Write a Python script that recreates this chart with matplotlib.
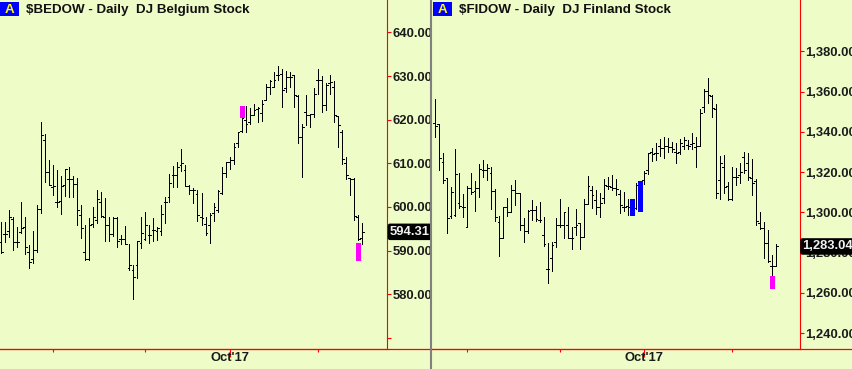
import numpy as np
import matplotlib
matplotlib.use("Agg")
import matplotlib.pyplot as plt
from matplotlib.patches import Rectangle
from matplotlib.lines import Line2D

plt.rcParams['font.family'] = ['Liberation Sans', 'DejaVu Sans']

# ---- data (daily OHLC, index = trading day) ----
# DJ Belgium, 91 sessions starting at index 0
bel_open = [592.0, 593.8, 594.4, 597.3, 591.9, 594.2, 595.4, 589.8, 588.1, 590.2,
            599.6, 615.3, 608.1, 604.5, 601.2, 601.4, 605.0, 606.5, 606.3, 605.3,
            598.2, 589.8, 588.0, 596.1, 597.0, 601.2, 597.8, 595.9, 593.8, 597.4,
            592.6, 592.6, 586.0, 585.5, 586.6, 591.7, 592.7, 593.6, 594.7, 594.6,
            594.6, 601.2, 602.4, 607.3, 607.3, 609.6, 608.5, 604.8, 603.9, 603.0,
            597.8, 596.1, 595.9, 598.6, 599.3, 603.1, 607.9, 610.2, 610.8, 614.6,
            617.3, 620.0, 619.5, 621.1, 622.4, 621.6, 624.5, 627.5, 627.5, 630.2,
            630.4, 627.2, 629.7, 630.2, 625.4, 616.1, 621.8, 621.1, 621.4, 629.2,
            629.0, 623.3, 628.3, 627.5, 620.8, 617.2, 610.0, 606.6, 606.4, 597.8,
            593.0]
bel_high = [596.5, 596.5, 599.3, 597.8, 595.4, 601.1, 597.8, 591.3, 594.4, 600.5,
            619.5, 616.7, 610.8, 609.6, 608.5, 607.0, 608.6, 609.2, 607.0, 606.6,
            600.5, 595.9, 597.4, 599.9, 604.0, 603.5, 602.0, 597.6, 597.8, 597.6,
            593.6, 595.7, 591.5, 586.7, 592.3, 597.8, 598.8, 595.9, 597.4, 595.5,
            600.5, 602.4, 607.6, 609.4, 610.4, 613.4, 609.6, 605.0, 604.3, 604.0,
            603.1, 597.8, 598.6, 601.0, 604.0, 609.1, 610.4, 611.4, 614.6, 617.1,
            620.7, 623.1, 622.6, 623.5, 623.0, 624.6, 628.2, 629.1, 631.0, 632.3,
            631.5, 631.2, 631.0, 630.2, 625.6, 619.0, 625.6, 621.4, 627.2, 631.5,
            630.0, 628.3, 630.2, 628.9, 620.8, 617.6, 611.4, 606.6, 606.6, 598.2,
            596.3]
bel_low = [589.4, 591.9, 593.2, 590.2, 590.8, 594.0, 589.3, 586.0, 587.1, 589.8,
           598.6, 605.8, 605.0, 602.8, 599.9, 598.4, 602.5, 602.2, 602.4, 595.9,
           592.8, 587.9, 587.9, 595.5, 596.4, 597.8, 592.1, 592.1, 593.4, 590.9,
           591.5, 591.5, 585.6, 579.0, 583.7, 590.5, 592.5, 591.7, 592.1, 592.5,
           593.6, 596.3, 601.2, 604.5, 604.5, 608.3, 604.8, 603.0, 601.0, 596.9,
           595.9, 593.6, 591.8, 596.7, 598.9, 603.0, 606.9, 608.6, 609.9, 613.8,
           617.1, 617.1, 619.0, 621.0, 619.5, 619.8, 624.5, 626.0, 627.4, 629.1,
           623.0, 626.4, 627.5, 622.8, 614.6, 606.9, 618.8, 618.4, 620.7, 626.0,
           621.8, 622.2, 626.0, 619.5, 613.7, 609.8, 606.3, 602.7, 597.0, 592.5,
           591.5]
bel_close = [589.6, 593.8, 597.6, 591.9, 591.9, 595.1, 590.9, 587.5, 590.2, 599.6,
             616.5, 608.1, 605.0, 604.7, 601.2, 604.8, 608.6, 606.5, 605.3, 599.3,
             595.1, 588.0, 595.9, 597.6, 601.8, 597.9, 595.9, 593.8, 597.4, 592.1,
             592.6, 591.5, 586.6, 583.9, 592.1, 594.0, 595.9, 593.6, 594.7, 595.1,
             598.4, 601.2, 605.4, 607.3, 609.2, 610.0, 604.8, 604.0, 603.9, 598.2,
             597.4, 594.0, 598.2, 600.1, 603.7, 607.9, 610.2, 610.8, 613.8, 617.1,
             620.5, 619.0, 621.1, 622.2, 622.6, 623.7, 627.5, 628.9, 629.2, 630.2,
             626.9, 629.7, 629.8, 625.6, 616.1, 618.4, 621.1, 621.4, 626.0, 629.2,
             623.3, 627.9, 628.7, 621.1, 618.8, 611.1, 607.3, 606.4, 597.9, 592.6,
             594.31]
bel_marks = [(60, 620.7, 623.1, '#ff00ff'), (89, 587.9, 591.7, '#ff00ff')]

# DJ Finland, 86 sessions starting at index 5 (nan = bar hidden by a marker)
nan = np.nan
fin_start = 5
fin_open = [1344.2, 1343.9, 1324.8, 1316.9, 1298.2, 1298.7, 1304.5, 1302.5, 1292.9, 1311.9,
            1310.6, 1311.9, 1321.0, 1321.0, 1319.7, 1310.6, 1295.4, 1287.1, 1302.5, 1300.3,
            1311.1, 1309.4, 1293.7, 1290.9, 1301.2, 1301.2, 1296.2, 1288.7, 1271.7, 1277.1,
            1285.4, 1293.7, 1293.7, 1293.7, 1287.1, 1292.9, 1294.6, 1287.9, 1304.1, 1311.1,
            1306.1, 1302.5, 1307.0, 1312.9, 1312.4, 1311.9, 1309.2, 1302.8, 1303.1, nan,
            1302.0, nan, 1316.1, 1321.0, 1330.1, 1329.3, 1333.0, 1331.8, 1333.0, 1332.3,
            1330.1, 1330.1, 1332.9, 1333.4, 1333.9, 1332.6, 1332.9, 1352.5, 1360.4, 1357.8,
            1351.1, 1316.0, 1322.7, 1313.0, 1306.4, 1317.7, 1318.5, 1327.3, 1324.6, 1316.9,
            1315.7, 1294.8, 1292.0, 1284.9, 1273.5, 1273.3]
fin_high = [1356.2, 1343.9, 1329.3, 1316.9, 1312.4, 1331.3, 1319.4, 1309.1, 1313.1, 1319.4,
            1315.7, 1324.0, 1326.0, 1324.0, 1322.4, 1311.4, 1298.2, 1302.8, 1307.0, 1313.6,
            1316.1, 1309.4, 1297.0, 1301.2, 1306.1, 1303.1, 1305.3, 1297.5, 1284.9, 1285.4,
            1297.0, 1306.5, 1300.3, 1302.5, 1292.9, 1301.5, 1294.9, 1306.5, 1318.1, 1313.1,
            1311.1, 1309.4, 1316.4, 1317.7, 1318.6, 1316.4, 1311.1, 1310.3, 1306.5, nan,
            1314.7, nan, 1320.7, 1329.3, 1331.8, 1334.3, 1336.3, 1337.3, 1336.8, 1335.1,
            1334.3, 1336.3, 1337.2, 1335.9, 1339.2, 1337.6, 1351.1, 1361.1, 1366.6, 1358.3,
            1353.8, 1328.0, 1328.5, 1315.2, 1322.3, 1321.8, 1324.3, 1330.1, 1329.3, 1326.3,
            1316.4, 1300.3, 1295.3, 1291.2, 1278.8, 1284.5]
fin_low = [1337.6, 1321.0, 1314.7, 1289.9, 1297.0, 1298.2, 1302.0, 1297.5, 1292.9, 1309.1,
           1300.8, 1307.5, 1317.4, 1316.1, 1301.5, 1295.9, 1278.3, 1287.1, 1298.2, 1300.3,
           1303.6, 1291.2, 1285.4, 1289.6, 1296.2, 1295.9, 1295.4, 1283.3, 1265.0, 1271.0,
           1282.9, 1292.9, 1287.1, 1287.1, 1281.6, 1288.7, 1281.6, 1287.6, 1304.1, 1302.0,
           1299.2, 1297.5, 1304.8, 1311.4, 1311.1, 1308.6, 1299.8, 1300.8, 1298.7, nan,
           1301.5, nan, 1314.1, 1319.0, 1325.7, 1326.0, 1328.0, 1326.8, 1330.1, 1330.1,
           1324.7, 1329.0, 1331.3, 1331.3, 1331.3, 1322.7, 1332.9, 1350.0, 1354.1, 1347.5,
           1306.9, 1306.4, 1309.4, 1306.1, 1306.1, 1313.5, 1314.4, 1319.7, 1316.0, 1308.6,
           1293.7, 1291.5, 1277.1, 1275.4, 1268.3, 1273.3]
fin_close = [1342.9, 1326.8, 1316.1, 1297.0, 1310.3, 1319.0, 1303.1, 1302.5, 1311.9, 1310.3,
             1311.9, 1321.4, 1321.0, 1321.9, 1310.6, 1297.5, 1287.1, 1302.8, 1300.3, 1311.1,
             1309.4, 1293.7, 1290.9, 1300.8, 1301.2, 1296.5, 1296.2, 1284.3, 1271.7, 1283.8,
             1293.7, 1293.7, 1300.3, 1287.1, 1287.1, 1293.7, 1287.9, 1304.1, 1313.1, 1308.6,
             1302.5, 1304.5, 1313.6, 1312.9, 1311.9, 1311.4, 1303.6, 1302.5, 1302.8, nan,
             1313.6, nan, 1319.7, 1329.3, 1329.0, 1329.3, 1331.8, 1333.0, 1332.6, 1331.3,
             1329.6, 1334.6, 1335.9, 1332.9, 1334.6, 1332.9, 1349.5, 1360.4, 1358.3, 1351.6,
             1309.4, 1324.3, 1312.7, 1306.4, 1317.4, 1317.4, 1320.2, 1321.0, 1317.7, 1314.7,
             1295.8, 1292.0, 1284.9, 1275.9, 1273.5, 1283.04]
fin_marks = [(54, 1298.7, 1306.5, '#0000ff'), (56, 1300.8, 1315.7, '#0000ff'),
             (89, 1262.2, 1268.3, '#ff00ff')]

# month starts (trading-day index): Aug, Sep, Oct, Nov
month_ticks = [13, 36, 57, 79]
month_labels = ['', '', "Oct'17", '']

bel_yticks = [570, 580, 590, 600, 610, 620, 630, 640]
bel_ylabels = ['', '580.00', '590.00', '600.00', '610.00', '620.00', '630.00', '640.00']
fin_yticks = [1240, 1260, 1280, 1300, 1320, 1340, 1360, 1380]
fin_ylabels = ['1,240.00', '1,260.00', '1,280.00', '1,300.00', '1,320.00',
               '1,340.00', '1,360.00', '1,380.00']

BG = '#eefcc8'
RED = '#ff0000'
W, H = 852, 369


def draw_bars(ax, start, o, h, l, c, marks):
    o, h, l, c = (np.asarray(v, float) for v in (o, h, l, c))
    x = np.arange(start, start + len(o), dtype=float)
    ok = ~np.isnan(h)
    kw = dict(color='black', lw=0.72, antialiased=False)
    ax.vlines(x[ok], l[ok], h[ok], **kw)
    ax.hlines(o[ok], x[ok] - 0.45, x[ok], **kw)
    ax.hlines(c[ok], x[ok], x[ok] + 0.45, **kw)
    for xi, lo, hi, col in marks:
        ax.vlines(xi, lo, hi, color=col, lw=2.2, antialiased=False)


def style_axis(ax, yticks, ylabels):
    ax.set_facecolor(BG)
    for s in ('left', 'top'):
        ax.spines[s].set_visible(False)
    ax.spines['right'].set_color(RED)
    ax.spines['bottom'].set_color(RED)
    ax.yaxis.tick_right()
    ax.set_yticks(yticks)
    ax.set_yticklabels(ylabels, fontsize=9.4, fontweight='bold', color='#1a1a1a')
    ax.tick_params(axis='y', colors=RED, length=3, width=0.8, pad=1, labelcolor='#1a1a1a')
    ax.set_xticks(month_ticks)
    ax.set_xticklabels(month_labels, fontsize=9.4, fontweight='bold', color='#1a1a1a')
    ax.tick_params(axis='x', colors=RED, length=2, width=0.8, pad=0.5, labelcolor='#1a1a1a')
    for t in ax.xaxis.get_major_ticks():
        if t.label1.get_text():
            t.tick1line.set_markersize(5.5)


fig = plt.figure(figsize=(W / 100, H / 100), dpi=100, facecolor=BG)

bot = 20 / H
ax1 = fig.add_axes([0, bot, 387 / W, 349 / H])
draw_bars(ax1, 0, bel_open, bel_high, bel_low, bel_close, bel_marks)
ax1.set_xlim(-0.25, -0.25 + 387 / 4.01)
ax1.set_ylim(567.47, 647.42)
style_axis(ax1, bel_yticks, bel_ylabels)

ax2 = fig.add_axes([431 / W, bot, 368.5 / W, 349 / H])
draw_bars(ax2, fin_start, fin_open, fin_high, fin_low, fin_close, fin_marks)
ax2.set_xlim(3.93, 3.93 + 368.5 / 4.01)
ax2.set_ylim(1232.1, 1405.5)
style_axis(ax2, fin_yticks, fin_ylabels)

# last price flags
box = dict(boxstyle='round,pad=0.12', fc='black', ec='black')
ax1.annotate('594.31', xy=(1, bel_close[-1]), xycoords=('axes fraction', 'data'),
             xytext=(3, 0), textcoords='offset pixels', ha='left', va='center',
             fontsize=9.4, fontweight='bold', color='#f2f2f2', bbox=box,
             annotation_clip=False, zorder=10)
ax2.annotate('1,283.04', xy=(1, fin_close[-1]), xycoords=('axes fraction', 'data'),
             xytext=(3, 0), textcoords='offset pixels', ha='left', va='center',
             fontsize=9.4, fontweight='bold', color='#f2f2f2', bbox=box,
             annotation_clip=False, zorder=10)

# frame lines spanning the whole figure
fig.add_artist(Line2D([0, 1], [bot, bot], transform=fig.transFigure, color=RED, lw=0.9))
fig.add_artist(Line2D([431 / W, 431 / W], [0, 1], transform=fig.transFigure,
                      color='#808080', lw=1.5))

# titles with the blue "A" badge
for x0, title in [(0, '$BEDOW - Daily  DJ Belgium Stock'),
                  (433.3, '$FIDOW - Daily  DJ Finland Stock')]:
    fig.add_artist(Rectangle((x0 / W, 1 - 15.7 / H), 19 / W, 14 / H,
                             transform=fig.transFigure, fc='#0000ff', ec='none'))
    fig.text((x0 + 9.5) / W, 1 - 13.3 / H, 'A', ha='center', va='baseline',
             fontsize=9.6, fontweight='bold', color='#ffff00')
    fig.text((x0 + 25.7) / W, 1 - 13.3 / H, title, ha='left', va='baseline',
             fontsize=9.6, fontweight='bold', color='#111111')

fig.savefig('out.png', dpi=100, facecolor=BG)
